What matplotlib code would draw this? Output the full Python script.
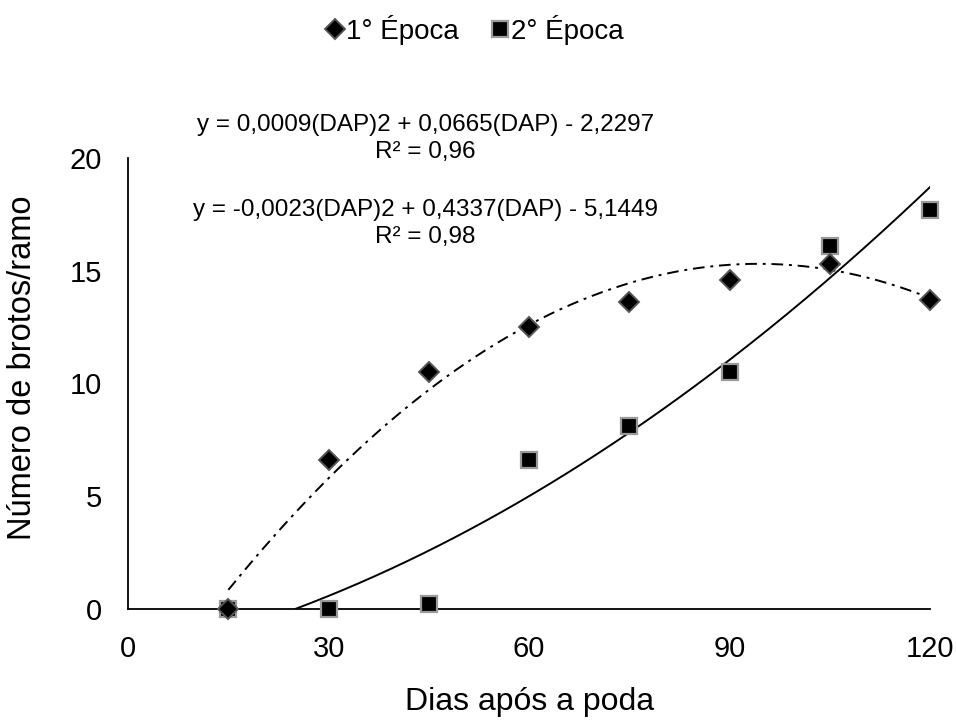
import numpy as np
import matplotlib.pyplot as plt

plt.rcParams['font.family'] = ['Liberation Sans', 'DejaVu Sans']

# dados
dias = [15, 30, 45, 60, 75, 90, 105, 120]
epoca1 = [0.0, 6.6, 10.5, 12.5, 13.6, 14.6, 15.3, 13.7]
epoca2 = [0.0, 0.0, 0.2, 6.6, 8.1, 10.5, 16.1, 17.7]

# coeficientes das linhas de tendência (a, b, c) -> a*x^2 + b*x + c
coef1 = [-0.0023, 0.4337, -5.1449]
coef2 = [0.0009, 0.0665, -2.2297]

eq1_txt = "y = -0,0023(DAP)2 + 0,4337(DAP) - 5,1449\nR² = 0,98"
eq2_txt = "y = 0,0009(DAP)2 + 0,0665(DAP) - 2,2297\nR² = 0,96"

fig = plt.figure(figsize=(9.56, 7.24), dpi=100)
ax = fig.add_axes([0.134, 0.159, 0.839, 0.623])

# tendência 1° época (traço-ponto)
x1 = np.linspace(dias[0], dias[-1], 200)
ax.plot(x1, np.polyval(coef1, x1), color='black', lw=1.4,
        dashes=(6, 3, 1.5, 3), zorder=2)

# tendência 2° época (contínua), só a partir do ponto onde cruza zero
raiz = max(np.roots(coef2).real)
x2 = np.linspace(raiz, dias[-1], 200)
ax.plot(x2, np.polyval(coef2, x2), color='black', lw=1.4, zorder=2)

ax.plot(dias, epoca2, linestyle='none', marker='s', ms=11,
        mfc='black', mec='#9a9a9a', mew=1.6, clip_on=False, zorder=3,
        label='2° Época')
ax.plot(dias, epoca1, linestyle='none', marker='D', ms=10,
        mfc='black', mec='#555555', mew=1.4, clip_on=False, zorder=4,
        label='1° Época')

ax.set_xlim(0, 120)
ax.set_ylim(0, 20)
ax.set_xticks(range(0, 121, 30))
ax.set_yticks(range(0, 21, 5))
ax.tick_params(length=0, labelsize=21, pad=19)
for s in ['top', 'right']:
    ax.spines[s].set_visible(False)
for s in ['left', 'bottom']:
    ax.spines[s].set_linewidth(1.3)

ax.set_xlabel("Dias após a poda", fontsize=23, labelpad=17)
ax.set_ylabel("Número de brotos/ramo", fontsize=23.5)
ax.yaxis.set_label_coords(-0.112, 0.534)

fig.text(0.445, 0.809, eq2_txt, ha='center', va='center', fontsize=17.5,
         linespacing=1.3)
fig.text(0.445, 0.691, eq1_txt, ha='center', va='center', fontsize=17.5,
         linespacing=1.3)

h, l = ax.get_legend_handles_labels()
fig.legend(h[::-1], l[::-1], loc='center', bbox_to_anchor=(0.497, 0.959),
           ncol=2, frameon=False, fontsize=20, handlelength=0.6,
           handletextpad=0.1, columnspacing=1.2, markerscale=1.05)

fig.savefig('out.png', dpi=100)
